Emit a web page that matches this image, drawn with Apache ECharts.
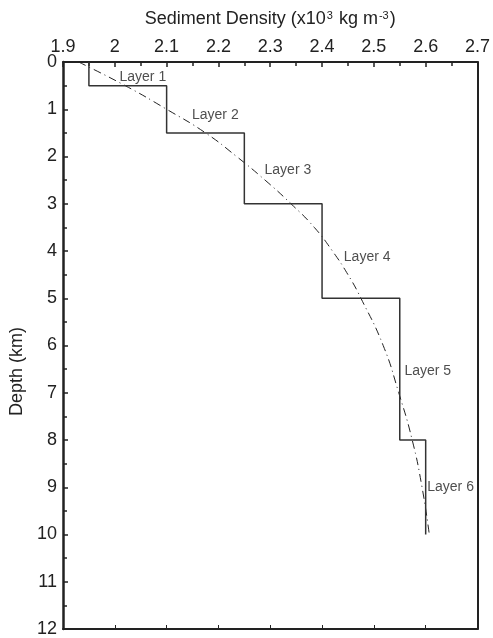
<!DOCTYPE html>
<html>
<head>
<meta charset="utf-8">
<script src="https://cdn.jsdelivr.net/npm/echarts@6/dist/echarts.min.js"></script>
<style>
  html, body { margin: 0; padding: 0; background: #fff; }
  #chart { width: 493px; height: 638px; }
</style>
</head>
<body>
<div id="chart"></div>
<script>
// layered density model (step line)
const layerNames = ['Layer 1', 'Layer 2', 'Layer 3', 'Layer 4', 'Layer 5', 'Layer 6']
const layerDensity = [1.95, 2.1, 2.25, 2.4, 2.55, 2.6]
const layerTop = [0, 0.5, 1.5, 3, 5, 8]
const layerBottom = [0.5, 1.5, 3, 5, 8, 10]

// continuous density curve (dash-dot)
const curveDepth = [0, 0.5, 1, 1.5, 2, 2.5, 3, 3.5, 4, 4.5, 5, 6, 7, 8, 9, 10]
const curveDensity = [1.93, 2.02, 2.10, 2.175, 2.235, 2.29, 2.34, 2.385, 2.42, 2.45, 2.475, 2.518, 2.548, 2.574, 2.593, 2.607]

// label anchor positions (density, depth)
const labelDensity = [2.009, 2.149, 2.289, 2.442, 2.559, 2.603]
const labelDepth = [0.33, 1.13, 2.28, 4.13, 6.55, 9.0]

const stepData = []
layerDensity.forEach((d, i) => {
  stepData.push([d, layerTop[i]])
  stepData.push([d, layerBottom[i]])
  if (i < layerDensity.length - 1) stepData.push([layerDensity[i + 1], layerBottom[i]])
})

const curveData = curveDepth.map((z, i) => [curveDensity[i], z])
const labelData = layerNames.map((n, i) => ({ value: [labelDensity[i], labelDepth[i]], name: n }))

const font = 'Liberation Sans, Arial, sans-serif'
const axisColor = '#222'

const chart = echarts.init(document.getElementById('chart'), null, { renderer: 'canvas' })

chart.setOption({
  animation: false,
  backgroundColor: '#fff',
  grid: { left: 63, right: 12, top: 62, bottom: 8, containLabel: false },
  xAxis: [
    {
      type: 'value',
      position: 'top',
      min: 1.9,
      max: 2.7,
      interval: 0.1,
      name: '{n|Sediment Density (x10}{s|3}{n| kg m}{s|-3}{n|)}',
      nameLocation: 'middle',
      nameGap: 33,
      nameTextStyle: {
        rich: {
          n: { fontFamily: font, fontSize: 18, color: '#222' },
          s: { fontFamily: font, fontSize: 11, color: '#222', verticalAlign: 'top', padding: [0, 1, 8, 1] }
        }
      },
      axisLine: { show: true, onZero: false, lineStyle: { color: axisColor, width: 2 } },
      axisTick: { show: true, inside: true, length: 5, lineStyle: { color: axisColor, width: 1.5 } },
      minorTick: { show: true, splitNumber: 2, length: 4, lineStyle: { color: axisColor, width: 1.5 } },
      axisLabel: { fontFamily: font, fontSize: 18, color: '#222', margin: 6 },
      splitLine: { show: false }
    },
    {
      type: 'value',
      position: 'bottom',
      min: 1.9,
      max: 2.7,
      interval: 0.1,
      axisLine: { show: true, onZero: false, lineStyle: { color: axisColor, width: 2 } },
      axisTick: { show: true, inside: true, length: 4, lineStyle: { color: axisColor, width: 1 } },
      axisLabel: { show: false },
      splitLine: { show: false }
    }
  ],
  yAxis: [
    {
      type: 'value',
      inverse: true,
      min: 0,
      max: 12,
      interval: 1,
      name: 'Depth (km)',
      nameLocation: 'middle',
      nameGap: 27,
      nameTextStyle: { fontFamily: font, fontSize: 18, color: '#222', padding: [0, 52, 0, 0] },
      axisLine: { show: true, onZero: false, lineStyle: { color: axisColor, width: 2.5 } },
      axisTick: { show: true, inside: true, length: 5, lineStyle: { color: axisColor, width: 1.5 } },
      minorTick: { show: true, splitNumber: 2, length: 4, lineStyle: { color: axisColor, width: 1.5 } },
      axisLabel: { fontFamily: font, fontSize: 18, color: '#222', margin: 6 },
      splitLine: { show: false }
    },
    {
      type: 'value',
      position: 'right',
      inverse: true,
      min: 0,
      max: 12,
      interval: 1,
      axisLine: { show: true, onZero: false, lineStyle: { color: axisColor, width: 2 } },
      axisTick: { show: false },
      axisLabel: { show: false },
      splitLine: { show: false }
    }
  ],
  series: [
    {
      type: 'line',
      data: stepData,
      showSymbol: false,
      lineStyle: { color: '#333', width: 1.5 },
      z: 3
    },
    {
      type: 'line',
      data: curveData,
      smooth: true,
      showSymbol: false,
      lineStyle: { color: '#222', width: 1, type: [8, 4, 1, 4] },
      z: 2
    },
    {
      type: 'scatter',
      data: labelData,
      symbolSize: 0,
      label: {
        show: true,
        position: 'right',
        distance: 0,
        formatter: p => p.name,
        fontFamily: font,
        fontSize: 14,
        color: '#222'
      },
      z: 4
    }
  ]
})
</script>
</body>
</html>
